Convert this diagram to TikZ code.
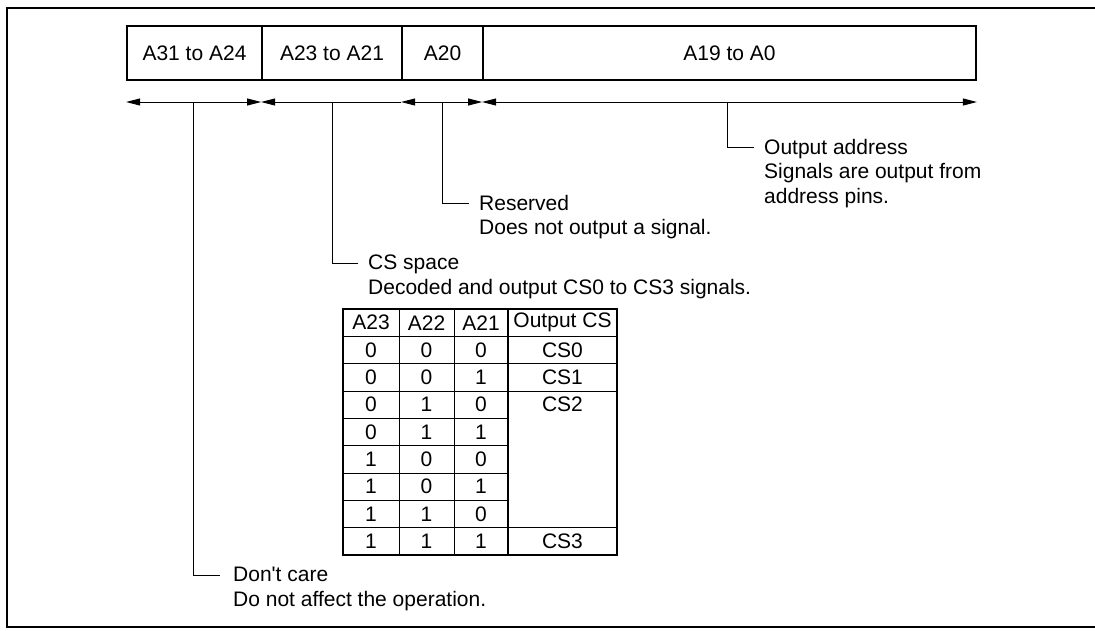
\documentclass[tikz,border=0pt]{standalone}
\usepackage{fontspec}
\setmainfont{Liberation Sans}
\usetikzlibrary{arrows.meta}
\begin{document}
\begin{tikzpicture}[x=1pt,y=-1pt,
  every node/.style={font=\fontsize{21}{24.5}\selectfont},
  cell/.style={draw, line width=1.8pt, minimum height=54pt, inner sep=0pt},
  thinline/.style={line width=0.9pt},
  dim/.style={line width=0.9pt, {Triangle[length=14pt,width=7pt]}-{Triangle[length=14pt,width=7pt]}},
  dimleft/.style={line width=0.9pt, {Triangle[length=14pt,width=7pt]}-},
  note/.style={anchor=north west, align=left, inner sep=0pt},
  tcell/.style={inner sep=0pt, anchor=center}]
\useasboundingbox (0,0) rectangle (1095,630);
% frame
\draw[line width=2.2pt] (1095,8) -- (7,8) -- (7,627) -- (1095,627);
% address fields
\node[cell, minimum width=135pt] (c1) at (194.5,53) {A31 to A24};
\node[cell, minimum width=140pt] (c2) at (332,53) {A23 to A21};
\node[cell, minimum width=81pt]  (c3) at (442.5,53) {A20};
\node[cell, minimum width=493pt] (c4) at (729.5,53) {A19 to A0};
% dimension line
\coordinate (d0) at (c1.south west |- 0,102);
\coordinate (d1) at (c2.south west |- 0,102);
\coordinate (d2) at (c3.south west |- 0,102);
\coordinate (d3) at (c4.south west |- 0,102);
\coordinate (d4) at (c4.south east |- 0,102);
\draw[dim] (d0) -- (d1);
\draw[dimleft] (d1) -- (d2);
\draw[dim] (d2) -- (d3);
\draw[dim] (d3) -- (d4);
\coordinate (p1) at (193,102);
\coordinate (p2) at (332,102);
\coordinate (p3) at (442,102);
\coordinate (p4) at (727,102);
% notes
\node[note] (oa) at (764,139) {Output address\\Signals are output from\\address pins.};
\node[note] (rs) at (479,195) {Reserved\\Does not output a signal.};
\node[note] (cs) at (368,255) {CS space\\Decoded and output CS0 to CS3 signals.};
\node[note] (dc) at (233,567) {Don\textquotesingle t care\\Do not affect the operation.};
\draw[thinline] (p4) |- ([shift={(-10,8)}]oa.north west);
\draw[thinline] (p3) |- ([shift={(-10,8)}]rs.north west);
\draw[thinline] (p2) |- ([shift={(-10,8)}]cs.north west);
\draw[thinline] (p1) |- ([shift={(-13,8)}]dc.north west);
% table
\def\ra{336.5}
\def\rh{27.3}
\draw[thinline] (399,309) -- (399,555);
\draw[thinline] (454,309) -- (454,555);
\draw[line width=1.3pt] (508,309) -- (508,555);
\foreach \k in {1,...,7}{
  \draw[thinline] (343,{\ra+\rh*\k}) -- (508,{\ra+\rh*\k});
}
\foreach \k in {1,2,7}{
  \draw[thinline] (508,{\ra+\rh*\k}) -- (617,{\ra+\rh*\k});
}
\draw[line width=1.8pt] (343,\ra) -- (617,\ra);
\draw[line width=1.8pt] (343,309) rectangle (617,555);
\node[tcell] (h1) at (371,322.75) {A23};
\node[tcell] (h2) at (426.5,322.75) {A22};
\node[tcell] (h3) at (481,322.75) {A21};
\node[tcell] (h4) at (562.5,322.75) {Output CS};
\foreach \a/\b/\c [count=\i from 0] in {0/0/0,0/0/1,0/1/0,0/1/1,1/0/0,1/0/1,1/1/0,1/1/1}{
  \node[tcell] (r\i a) at (371,{\ra+\rh*(\i+0.5)}) {\a};
  \node[tcell] (r\i b) at (426.5,{\ra+\rh*(\i+0.5)}) {\b};
  \node[tcell] (r\i c) at (481,{\ra+\rh*(\i+0.5)}) {\c};
}
\node[tcell] (o0) at (562.5,{\ra+\rh*0.5}) {CS0};
\node[tcell] (o1) at (562.5,{\ra+\rh*1.5}) {CS1};
\node[tcell] (o2) at (562.5,{\ra+\rh*2.5}) {CS2};
\node[tcell] (o7) at (562.5,{\ra+\rh*7.5}) {CS3};
\end{tikzpicture}
\end{document}
